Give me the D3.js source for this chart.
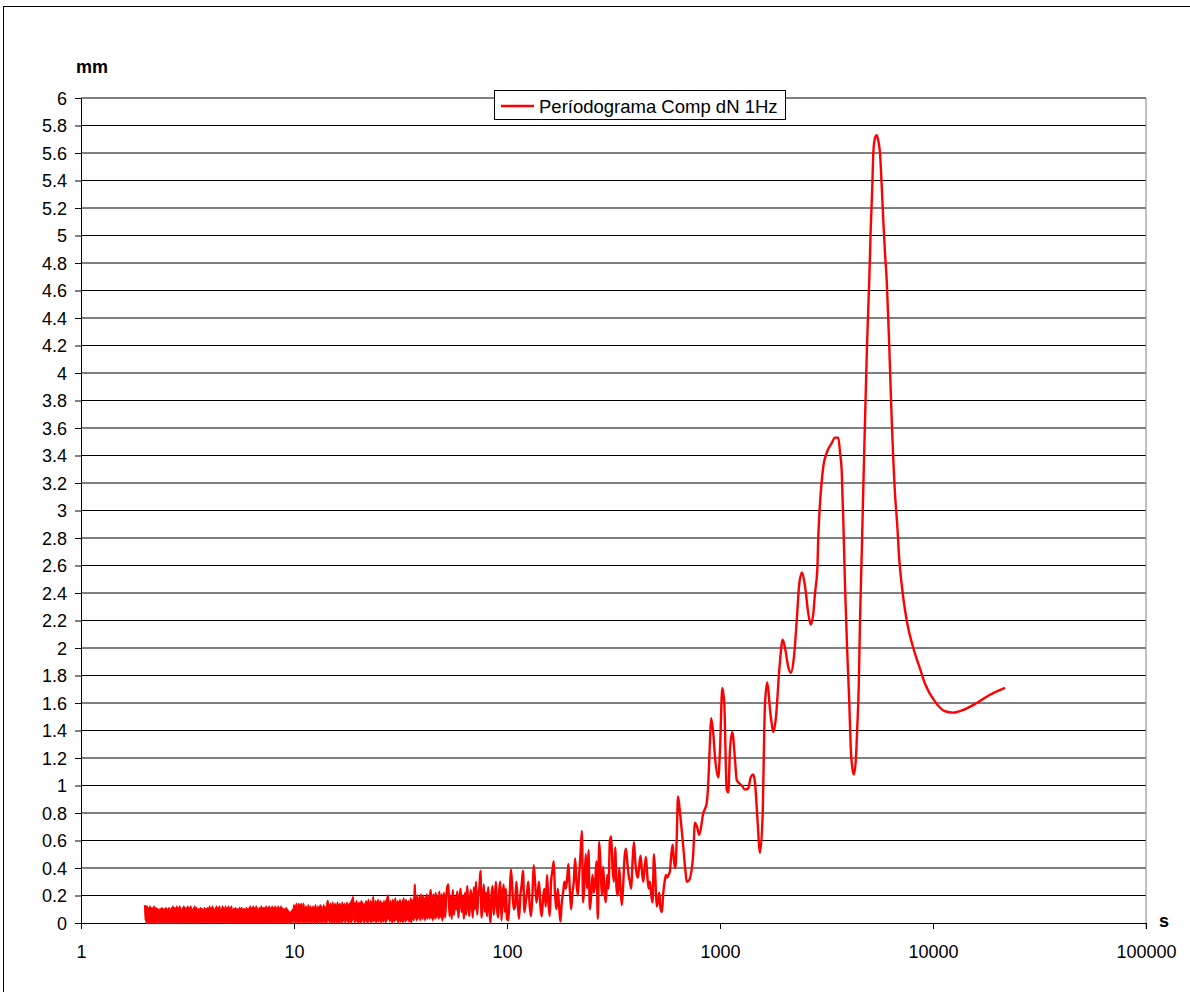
<!DOCTYPE html>
<html>
<head>
<meta charset="utf-8">
<script src="https://cdn.jsdelivr.net/npm/d3@7"></script>
<style>
  html, body { margin: 0; padding: 0; background: #fff; }
  svg { display: block; }
  text { font-family: "Liberation Sans", Arial, sans-serif; fill: #000; }
</style>
</head>
<body>
<svg id="chart" width="1190" height="992"></svg>
<script>
// Periodogram amplitude (mm) against period (s).

// Short periods, 2 s to 10 s: dense spectral noise.
const amp2to10 = [
  .13,.02,.1,.0,.12,.04,.09,.0,.11,.01,
  .12,.0,.08,.03,.11,.0,.1,.02,.12,.0,
  .09,.01,.11,.0,.1,.03,.1,.01,.09,.0,
  .1,.02,.1,.0,.11,.01,.08,.0,.1,.02,
  .1,.0,.11,.03,.09,.0,.1,.01,.11,.0,
  .1,.02,.09,.0,.11,.01,.12,.0,.1,.03,
  .11,.0,.09,.02,.12,.0,.1,.01,.11,.0,
  .12,.02,.1,.0,.09,.01,.11,.0,.12,.03,
  .1,.0,.11,.02,.09,.0,.12,.01,.1,.0,
  .11,.03,.12,.0,.1,.01,.09,.0,.11,.02,
  .12,.0,.1,.02,.11,.0,.09,.01,.1,.0,
  .1,.02,.11,.0,.1,.01,.1,.0,.09,.03,
  .11,.0,.1,.02,.1,.0,.11,.01,.09,.0,
  .12,.01,.1,.0,.11,.02,.12,.0,.1,.01,
  .09,.0,.11,.03,.12,.0,.1,.02,.11,.0,
  .12,.01,.09,.0,.1,.02,.12,.0,.11,.01,
  .1,.0,.12,.02,.09,.0,.11,.01,.12,.0,
  .1,.03,.11,.0,.12,.01,.09,.0,.1,.02,
  .1,.0,.11,.01,.1,.0,.1,.02,.09,.0,
  .11,.01,.1,.0,.11,.03,.1,.0,.1,.01,
  .1,.0,.09,.02,.11,.0,.1,.01,.1,.0,
  .11,.02,.12,.0,.09,.01,.11,.0,.12,.02,
  .1,.0,.11,.01,.12,.0,.1,.03,.09,.0,
  .11,.01,.1,.0,.12,.02,.1,.0,.11,.01,
  .11,.0,.1,.02,.12,.0,.11,.01,.1,.0,
  .12,.02,.11,.0,.1,.01,.12,.0,.11,.02,
  .1,.0,.12,.01,.11,.0,.1,.02,.12,.0,
  .11,.01,.1,.0,.12,.02,.11,.0,.1,.01,
  .1,.0,.09,.02,.11,.0,.1,.01,.09,.0,
  .08,.0,.07,.01,.08,.0,.09,.02,.1,.01
];

// 10 s to 50 s.
const amp10to50 = [
  .13,.01,.12,.0,.14,.02,.11,.0,.14,.01,
  .13,.0,.14,.02,.12,.0,.14,.01,.11,.0,
  .12,.01,.1,.0,.13,.02,.11,.0,.12,.01,
  .1,.0,.12,.02,.11,.0,.13,.01,.1,.0,
  .12,.02,.11,.0,.13,.01,.12,.0,.1,.02,
  .13,.0,.11,.01,.12,.0,.14,.16,.02,.13,
  .0,.14,.02,.12,.0,.15,.01,.13,.0,.14,
  .02,.12,.0,.15,.01,.13,.0,.14,.02,.12,
  .0,.15,.01,.13,.03,.14,.0,.12,.02,.15,
  .01,.13,.0,.14,.02,.15,.0,.17,.02,.19,
  .03,.15,.0,.14,.02,.16,.01,.13,.0,.15,
  .02,.14,.0,.16,.01,.15,.03,.13,.0,.14,
  .02,.16,.01,.15,.0,.17,.03,.14,.01,.16,
  .0,.15,.02,.19,.01,.14,.03,.16,.0,.15,
  .02,.17,.01,.14,.03,.16,.0,.15,.02,.14,
  .01,.16,.03,.15,.0,.17,.02,.18,.2,.03,
  .15,.01,.16,.03,.14,.0,.17,.02,.15,.01,
  .18,.03,.14,.02,.16,.0,.15,.03,.17,.01,
  .14,.02,.16,.0,.18,.03,.15,.01,.17,.02,
  .15,.03,.16,.01,.14,.02,.18,.0,.16,.03,
  .17,.02,.15,.28,.04,.18,.02,.2,.03,.17,
  .05,.19,.02,.21,.04,.18,.03,.2,.05,.17,
  .02,.19,.04,.21,.03,.18,.05,.2,.03,.22,
  .24,.04,.19,.02,.21,.05,.18,.03,.22,.04,
  .2,.06,.19,.03,.23,.05,.18,.04,.21,.02
];

// 50 s to 100 s.
const amp50to100 = [
  .06,.22,.04,.18,.26,.28,.05,.2,.03,.24,
  .06,.19,.1,.23,.04,.17,.25,.08,.2,.03,
  .22,.06,.27,.12,.05,.24,.18,.04,.26,.1,
  .3,.06,.2,.25,.38,.04,.15,.28,.08,.22,
  .05,.26,.12,.0,.2,.27,.06,.18,.3,.1,
  .04,.24,.3,.02,.2,.28,.08,.25
];

// 100 s to 635 s.
const amp100to635 = [
  .03,.02,.2,.39,.25,.1,.12,.3,.15,.03,
  .2,.28,.38,.08,.15,.22,.3,.12,.05,.2,
  .42,.3,.15,.22,.3,.12,.05,.18,.25,.12,
  .35,.15,.05,.3,.38,.45,.2,.1,.25,.12,
  .01,.15,.22,.3,.25,.32,.43,.25,.1,.22,
  .3,.47,.3,.2,.35,.5,.67,.15,.3,.5,
  .25,.53,.1,.2,.35,.22,.3,.45,.03,.59,
  .42,.2,.41,.22,.15,.35,.25,.6,.63,.4,
  .3,.55,.25,.2,.4,.25,.13,.28,.48,.54,
  .45,.35,.3,.25,.45,.59,.45,.36,.33,.42,
  .49,.38,.3,.4,.48,.35,.25,.3,.2,.15,
  .5,.35,.12,.15,.22,.1,.08,.22,.3,.35,
  .33,.35,.38,.5,.57,.45,.4,.6
];

// Bands sampled on an even log-period grid (start inclusive, end exclusive).
const bandStarts = [2, 10, 50, 100];
const bandEnds = [10, 50, 100, 635];
const bandValues = [amp2to10, amp10to50, amp50to100, amp100to635];

// Long periods, read point by point.
const longPeriods = [
  635, 649, 670, 688, 698, 715, 747, 763, 780, 799,
  835, 866, 881, 896, 908, 930, 947, 982, 1000, 1025,
  1047, 1075, 1094, 1114, 1142, 1176, 1198, 1265, 1310, 1358,
  1394, 1433, 1460, 1497, 1541, 1587, 1609, 1627, 1668, 1717,
  1749, 1779, 1832, 1898, 1970, 2020, 2093, 2148, 2226, 2292,
  2357, 2427, 2507, 2598, 2667, 2742, 2793, 2863, 2894, 2948,
  3055, 3169, 3345, 3467, 3594, 3661, 3727, 3760, 3792, 3863,
  3960, 4046, 4108, 4198, 4257, 4350, 4412, 4480, 4543, 4628,
  4709, 4796, 4900, 5022, 5099, 5188, 5245, 5342, 5441, 5536,
  5639, 5743, 5844, 5952, 6062, 6230, 6400, 6632, 6790, 6940,
  7140, 7525, 8082, 8690, 9172, 10218, 11385, 12455, 13880, 16043,
  18516, 21779
];
const longValues = [
  0.92, 0.8, 0.58, 0.38, 0.3, 0.31, 0.48, 0.73, 0.7, 0.64,
  0.8, 0.87, 1.02, 1.3, 1.49, 1.38, 1.21, 1.06, 1.26, 1.71,
  1.6, 0.97, 0.95, 1.26, 1.39, 1.19, 1.04, 1.0, 0.97, 0.98,
  1.06, 1.08, 1.02, 0.77, 0.51, 0.8, 1.3, 1.6, 1.75, 1.55,
  1.45, 1.39, 1.5, 1.84, 2.06, 2.0, 1.86, 1.82, 1.94, 2.2,
  2.47, 2.55, 2.45, 2.25, 2.17, 2.25, 2.4, 2.57, 2.81, 3.05,
  3.32, 3.42, 3.49, 3.53, 3.53, 3.42, 3.29, 3.1, 2.93, 2.45,
  1.96, 1.6, 1.28, 1.11, 1.08, 1.21, 1.43, 1.72, 2.2, 2.69,
  3.17, 3.66, 4.2, 4.68, 5.04, 5.36, 5.6, 5.71, 5.73, 5.69,
  5.6, 5.36, 5.11, 4.87, 4.68, 4.2, 3.66, 3.12, 2.9, 2.65,
  2.45, 2.2, 2.0, 1.85, 1.74, 1.61, 1.54, 1.53, 1.55, 1.6,
  1.66, 1.71
];

const yTicks = [0, 0.2, 0.4, 0.6, 0.8, 1, 1.2, 1.4, 1.6, 1.8, 2, 2.2, 2.4, 2.6, 2.8,
  3, 3.2, 3.4, 3.6, 3.8, 4, 4.2, 4.4, 4.6, 4.8, 5, 5.2, 5.4, 5.6, 5.8, 6];
const xTicks = [1, 10, 100, 1000, 10000, 100000];
const seriesName = "Períodograma Comp dN 1Hz";

// Assemble the series.
const series = [];
bandValues.forEach((vals, b) => {
  const a = bandStarts[b], e = bandEnds[b], n = vals.length;
  vals.forEach((v, i) => series.push({ period: a * Math.pow(e / a, i / n), amp: v }));
});
longPeriods.forEach((p, i) => series.push({ period: p, amp: longValues[i] }));

const svg = d3.select("#chart");
const plotLeft = 81, plotRight = 1146, plotTop = 98, plotBottom = 923;

const x = d3.scaleLog().domain([1, 100000]).range([plotLeft, plotRight]);
const y = d3.scaleLinear().domain([0, 6]).range([plotBottom, plotTop]);

// Outer frame
svg.append("rect")
  .attr("x", 3.5).attr("y", 6.5).attr("width", 1200).attr("height", 1000)
  .attr("fill", "none").attr("stroke", "#000").attr("stroke-width", 1);

// Horizontal gridlines
svg.append("g")
  .selectAll("line")
  .data(yTicks.filter(t => t > 0))
  .join("line")
  .attr("x1", plotLeft).attr("x2", plotRight)
  .attr("y1", d => y(d)).attr("y2", d => y(d))
  .attr("stroke", "#000").attr("stroke-width", 1);

// Right edge of the plot area
svg.append("line")
  .attr("x1", plotRight).attr("x2", plotRight)
  .attr("y1", plotTop).attr("y2", plotBottom + 6)
  .attr("stroke", "#808080").attr("stroke-width", 1);

// Y axis
const yAxis = svg.append("g")
  .attr("transform", `translate(${plotLeft},0)`)
  .call(d3.axisLeft(y).tickValues(yTicks).tickFormat(d3.format("~g"))
    .tickSize(6).tickSizeOuter(0).tickPadding(8));
yAxis.selectAll("text").style("font-size", "18px").attr("dy", "0.36em");
yAxis.selectAll("line, path").attr("stroke", "#000");

// X axis
const xAxis = svg.append("g")
  .attr("transform", `translate(0,${plotBottom})`)
  .call(d3.axisBottom(x).tickValues(xTicks).tickFormat(d3.format("d"))
    .tickSize(6).tickSizeOuter(0).tickPadding(16));
xAxis.selectAll("text").style("font-size", "18px");
xAxis.selectAll("line, path").attr("stroke", "#000");

// Axis titles
svg.append("text").attr("x", 76).attr("y", 73)
  .style("font-size", "18px").style("font-weight", "bold").text("mm");
svg.append("text").attr("x", 1159).attr("y", 927)
  .style("font-size", "18px").style("font-weight", "bold").text("s");

// Periodogram line
const line = d3.line()
  .x(d => x(d.period))
  .y(d => y(d.amp))
  .curve(d3.curveMonotoneX);

svg.append("path")
  .datum(series)
  .attr("fill", "none")
  .attr("stroke", "#ff0000")
  .attr("stroke-width", 2.4)
  .attr("stroke-linejoin", "round")
  .attr("d", line);

// Legend
const legend = svg.append("g");
legend.append("rect")
  .attr("x", 494.5).attr("y", 90.5).attr("width", 291).attr("height", 29)
  .attr("fill", "#fff").attr("stroke", "#000").attr("stroke-width", 1);
legend.append("line")
  .attr("x1", 501).attr("x2", 534).attr("y1", 106).attr("y2", 106)
  .attr("stroke", "#ff0000").attr("stroke-width", 2.4);
legend.append("text").attr("x", 539).attr("y", 112.5)
  .style("font-size", "18.5px").text(seriesName);
</script>
</body>
</html>
